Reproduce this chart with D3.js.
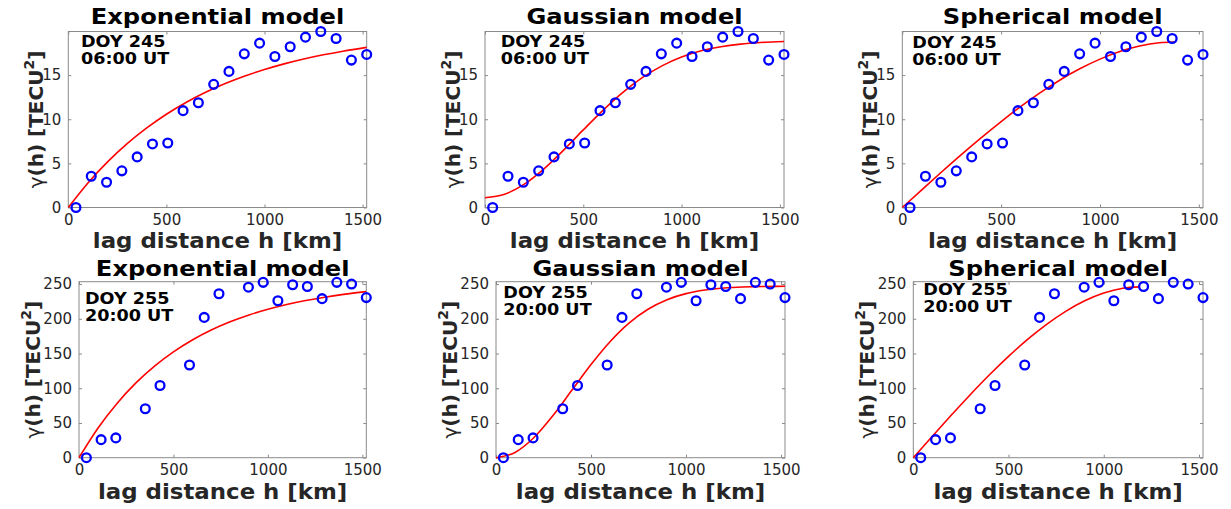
<!DOCTYPE html>
<html>
<head>
<meta charset="utf-8">
<script src="https://cdn.jsdelivr.net/npm/d3@7"></script>
<style>
  body{margin:0;background:#fff;}
  text{font-family:"DejaVu Sans",sans-serif;}
</style>
</head>
<body>
<div id="chart"></div>
<script>
// lag bin centres (km)
const lag245 = [39, 117, 195, 273, 351, 429, 507, 585, 663, 741, 819, 897, 975, 1053, 1131, 1209, 1287, 1365, 1443, 1521]
const gamma245 = [0, 3.54, 2.86, 4.15, 5.73, 7.2, 7.31, 10.97, 11.87, 13.95, 15.42, 17.41, 18.62, 17.11, 18.21, 19.3, 19.94, 19.15, 16.7, 17.34]
const lag255 = [39, 117, 195, 351, 429, 585, 663, 741, 897, 975, 1053, 1131, 1209, 1287, 1365, 1443, 1521]
const gamma255 = [0, 26, 28.5, 70.5, 104, 133.5, 202, 236, 245.5, 252.5, 226, 249, 246.5, 229, 252.5, 250, 230.5]

// fitted model curves
const fitLag = [0, 100, 200, 300, 400, 500, 600, 700, 800, 900, 1000, 1100, 1200, 1300, 1400, 1521]
const expFit245 = [0, 2.78, 5.17, 7.24, 9.02, 10.57, 11.9, 13.05, 14.04, 14.9, 15.63, 16.27, 16.82, 17.3, 17.71, 18.14]
const gauFit245 = [1.1, 1.5, 2.64, 4.38, 6.5, 8.79, 11.01, 13.02, 14.71, 16.05, 17.05, 17.75, 18.21, 18.51, 18.69, 18.81]
const sphLag245 = [0, 100, 200, 300, 400, 500, 600, 700, 800, 900, 1000, 1100, 1200, 1300, 1380]
const sphFit245 = [0, 2.03, 4.05, 6.02, 7.92, 9.74, 11.46, 13.04, 14.48, 15.74, 16.81, 17.67, 18.29, 18.66, 18.75]
const expFit255 = [0, 42.5, 77.8, 107.4, 131.9, 152.4, 169.5, 183.8, 195.6, 205.5, 213.7, 220.6, 226.3, 231.1, 235.1, 239.1]
const gauFit255 = [0, 7.6, 29.1, 60.7, 97.4, 134.1, 167, 193.8, 213.7, 227.5, 236.2, 241.4, 244.3, 245.8, 246.5, 246.8]
const sphLag255 = [0, 100, 200, 300, 400, 500, 600, 700, 800, 900, 1000, 1100, 1190]
const sphFit255 = [0, 30.9, 61.4, 91.1, 119.4, 145.9, 170.3, 192, 210.7, 225.9, 237.1, 244, 246]

const xTicks = [0, 500, 1000, 1500]
const yTicks245 = [0, 5, 10, 15]
const yTicks255 = [0, 50, 100, 150, 200, 250]
const titles = ["Exponential model", "Gaussian model", "Spherical model"]

const W = 1231, H = 509
const svg = d3.select("#chart").append("svg")
  .attr("width", W).attr("height", H)
svg.append("rect").attr("width", W).attr("height", H).attr("fill", "#fff")

const top245 = {y0: 31.5, y1: 207.5, ymax: 19.94, yTicks: yTicks245, lag: lag245, obs: gamma245,
  doy: "DOY 245", ut: "06:00 UT", titleY: 24, xlabY: 248, ylabDx: -25}
const bot255 = {y0: 281.7, y1: 457.7, ymax: 253.4, yTicks: yTicks255, lag: lag255, obs: gamma255,
  doy: "DOY 255", ut: "20:00 UT", titleY: 276, xlabY: 499, ylabDx: -39}

const panels = [
  {row: top245, x0: 68.3, x1: 366.7, title: titles[0], fx: fitLag, fy: expFit245, ann: [12.7, 15.2]},
  {row: top245, x0: 485, x1: 784, title: titles[1], fx: fitLag, fy: gauFit245, ann: [15.7, 15.2]},
  {row: top245, x0: 902.3, x1: 1203, title: titles[2], fx: sphLag245, fy: sphFit245, ann: [10, 16.2]},
  {row: bot255, x0: 79, x1: 366.3, title: titles[0], fx: fitLag, fy: expFit255, ann: [6, 22.6]},
  {row: bot255, x0: 496, x1: 785, title: titles[1], fx: fitLag, fy: gauFit255, ann: [7.3, 16.6]},
  {row: bot255, x0: 913.3, x1: 1203, title: titles[2], fx: sphLag255, fy: sphFit255, ann: [10, 13.3]}
]

const axisCol = "#262626"
const stretch = 1.1   // bold text in the figure is a bit wider than DejaVu

panels.forEach(p => {
  const r = p.row
  const x = d3.scaleLinear().domain([0, 1521]).range([p.x0, p.x1])
  const y = d3.scaleLinear().domain([0, r.ymax]).range([r.y1, r.y0])
  const g = svg.append("g")

  // axes: bottom/left with labels, top/right mirrored ticks only
  g.append("g").attr("transform", `translate(0,${r.y1})`)
    .call(d3.axisBottom(x).tickValues(xTicks).tickFormat(d3.format("d")).tickSizeInner(-3).tickSizeOuter(0).tickPadding(7))
  g.append("g").attr("transform", `translate(0,${r.y0})`)
    .call(d3.axisTop(x).tickValues(xTicks).tickSizeInner(-3).tickSizeOuter(0).tickFormat(""))
  g.append("g").attr("transform", `translate(${p.x0},0)`)
    .call(d3.axisLeft(y).tickValues(r.yTicks).tickSizeInner(-3).tickSizeOuter(0).tickPadding(7))
  g.append("g").attr("transform", `translate(${p.x1},0)`)
    .call(d3.axisRight(y).tickValues(r.yTicks).tickSizeInner(-3).tickSizeOuter(0).tickFormat(""))
  g.selectAll(".domain").remove()
  g.selectAll(".tick line").attr("stroke", "#8a8a8a")
  g.selectAll(".tick text").attr("fill", axisCol).style("font-size", "15px")
    .style("font-family", "DejaVu Sans")

  g.append("rect")
    .attr("x", p.x0).attr("y", r.y0)
    .attr("width", p.x1 - p.x0).attr("height", r.y1 - r.y0)
    .attr("fill", "none").attr("stroke", "#8a8a8a").attr("stroke-width", 1)

  // model curve
  const line = d3.line().x(d => x(d[0])).y(d => y(d[1])).curve(d3.curveMonotoneX)
  g.append("path")
    .datum(p.fx.map((h, i) => [h, p.fy[i]]))
    .attr("d", line)
    .attr("fill", "none").attr("stroke", "#ff0000").attr("stroke-width", 1.6)

  // empirical semivariogram
  g.selectAll("circle.obs")
    .data(r.lag.map((h, i) => [h, r.obs[i]]))
    .enter().append("circle")
    .attr("class", "obs")
    .attr("cx", d => x(d[0])).attr("cy", d => y(d[1]))
    .attr("r", 4.4)
    .attr("fill", "none").attr("stroke", "#0000ff").attr("stroke-width", 2.3)

  const cx = (p.x0 + p.x1) / 2
  g.append("text").attr("transform", `translate(${cx},${r.titleY}) scale(${stretch},1)`)
    .attr("text-anchor", "middle").style("font-size", "22px").style("font-weight", "bold")
    .attr("fill", "#000").text(p.title)
  g.append("text").attr("transform", `translate(${cx},${r.xlabY}) scale(1.04,1)`)
    .attr("text-anchor", "middle").style("font-size", "22px").style("font-weight", "bold")
    .attr("fill", axisCol).text("lag distance h [km]")

  const yl = g.append("text")
    .attr("transform", `translate(${p.x0 + r.ylabDx},${(r.y0 + r.y1) / 2}) rotate(-90)`)
    .attr("text-anchor", "middle").style("font-size", "20px").attr("fill", axisCol)
  yl.append("tspan").text("γ")
  yl.append("tspan").style("font-weight", "bold").text("(h) [TECU")
  yl.append("tspan").style("font-weight", "bold").style("font-size", "14px").attr("dy", -9).text("2")
  yl.append("tspan").style("font-weight", "bold").attr("dy", 9).text("]")

  const ax = p.x0 + p.ann[0], ay = r.y0 + p.ann[1]
  const an = g.append("text").attr("transform", `translate(${ax},${ay}) scale(${stretch},1)`)
    .style("font-size", "16px").style("font-weight", "bold").attr("fill", "#000")
  an.append("tspan").attr("x", 0).attr("y", 0).text(r.doy)
  an.append("tspan").attr("x", 0).attr("y", 17).text(r.ut)
})
</script>
</body>
</html>
